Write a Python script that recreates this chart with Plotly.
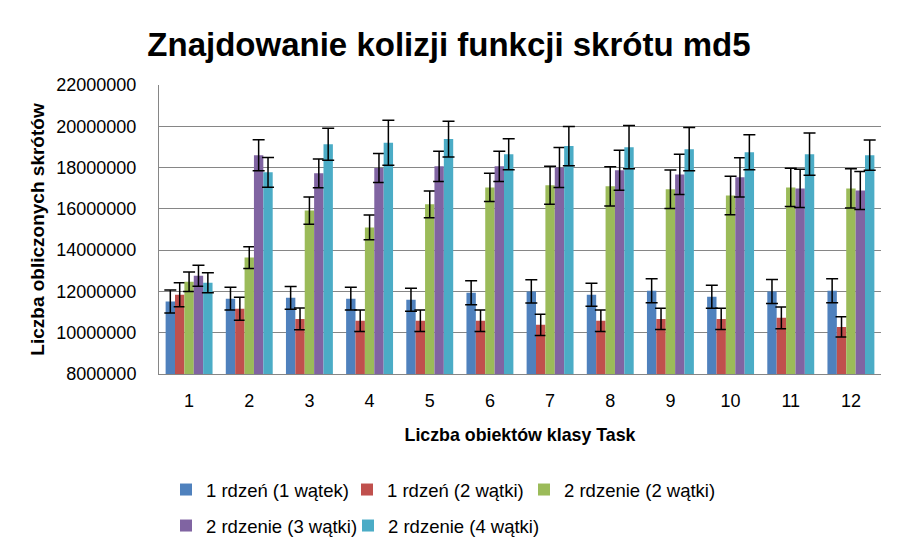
import plotly.graph_objects as go

categories = ["1", "2", "3", "4", "5", "6", "7", "8", "9", "10", "11", "12"]
series_names = ["1 rdzeń (1 wątek)", "1 rdzeń (2 wątki)", "2 rdzenie (2 wątki)",
                "2 rdzenie (3 wątki)", "2 rdzenie (4 wątki)"]
colors = ["#4F81BD", "#C0504D", "#9BBB59", "#8064A2", "#4BACC6"]
legend_ids = ["legend", "legend2", "legend3", "legend4", "legend5"]

s1 = [11.51, 11.65, 11.69, 11.65, 11.60, 11.94, 12.00, 11.84, 12.03, 11.74, 12.00, 12.03]
s2 = [11.84, 11.16, 10.67, 10.58, 10.58, 10.58, 10.38, 10.58, 10.67, 10.67, 10.72, 10.28]
s3 = [12.47, 13.64, 15.92, 15.10, 16.22, 17.04, 17.14, 17.09, 16.95, 16.65, 17.04, 16.99]
s4 = [12.76, 18.60, 17.72, 17.98, 18.06, 18.06, 18.00, 17.87, 17.67, 17.53, 16.99, 16.89]
s5 = [12.42, 17.77, 19.13, 19.20, 19.38, 18.65, 19.04, 18.99, 18.89, 18.74, 18.65, 18.60]

e1 = [0.56, 0.55, 0.55, 0.55, 0.56, 0.58, 0.56, 0.56, 0.58, 0.56, 0.58, 0.58]
e2 = [0.58, 0.56, 0.53, 0.52, 0.52, 0.52, 0.51, 0.52, 0.51, 0.51, 0.53, 0.49]
e3 = [0.47, 0.53, 0.66, 0.60, 0.65, 0.68, 0.92, 0.95, 0.93, 0.93, 0.93, 0.95]
e4 = [0.51, 0.75, 0.70, 0.70, 0.73, 0.73, 0.97, 0.97, 0.97, 0.95, 0.93, 0.92]
e5 = [0.49, 0.72, 0.77, 1.09, 0.87, 0.75, 0.95, 1.05, 1.05, 0.85, 1.02, 0.73]

values = [s1, s2, s3, s4, s5]
errors = [e1, e2, e3, e4, e5]
M = 1_000_000

fig = go.Figure()
for name, col, v, e, lg in zip(series_names, colors, values, errors, legend_ids):
    fig.add_trace(go.Bar(
        x=categories, y=[x * M for x in v], name=name, legend=lg,
        marker=dict(color=col, line=dict(width=0)),
        error_y=dict(type="data", array=[x * M for x in e], visible=True,
                     color="black", thickness=1.5, width=6),
    ))

W, H = 903, 555


def legend_at(left_px, mid_px):
    return dict(orientation="h", xref="container", yref="container",
                x=left_px / W, y=1 - mid_px / H,
                xanchor="left", yanchor="middle", font=dict(size=18.5),
                itemwidth=30, bgcolor="rgba(0,0,0,0)")


fig.update_layout(
    width=W, height=H,
    margin=dict(l=151, r=30, t=77, b=189, autoexpand=False),
    paper_bgcolor="white", plot_bgcolor="white",
    barmode="group", bargap=0.22, bargroupgap=0,
    font=dict(family="Liberation Sans, Arial", size=15, color="black"),
    title=dict(text="<b>Znajdowanie kolizji funkcji skrótu md5</b>",
               xref="container", x=441 / W, xanchor="center",
               yref="container", y=1 - 36 / H, yanchor="middle",
               font=dict(size=33, color="black")),
    showlegend=True,
    legend=legend_at(158, 482),
    legend2=legend_at(339, 482),
    legend3=legend_at(516, 482),
    legend4=legend_at(158, 518),
    legend5=legend_at(340, 518),
    xaxis=dict(
        title=dict(text="<b>Liczba obiektów klasy Task</b>", font=dict(size=17.8), standoff=18),
        showline=True, linecolor="#868686", linewidth=1,
        ticks="", tickfont=dict(size=18), ticklabelstandoff=10,
    ),
    yaxis=dict(
        title=dict(text="<b>Liczba obliczonych skrótów</b>", font=dict(size=19), standoff=6),
        range=[8 * M, 22 * M], dtick=2 * M, tickformat="d",
        showgrid=True, gridcolor="#868686", gridwidth=1,
        showline=True, linecolor="#868686", linewidth=1,
        ticks="", tickfont=dict(size=18), ticklabelstandoff=18, zeroline=False,
    ),
)

fig.write_html("out.html")
